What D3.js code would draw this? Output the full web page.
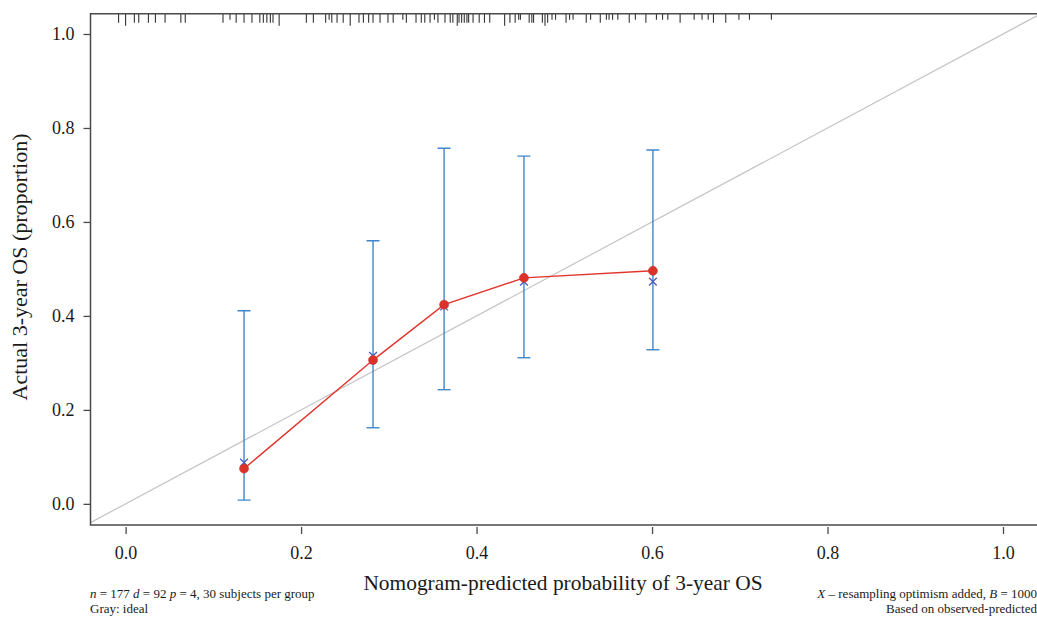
<!DOCTYPE html>
<html><head><meta charset="utf-8">
<script src="https://cdn.jsdelivr.net/npm/d3@7"></script>
<style>
body{margin:0;background:#fff}
text{font-family:"Liberation Serif","Times New Roman",serif;fill:#1a1a1a}
</style>
</head><body><svg id="c" width="1037" height="621"></svg>
<script>
// ---- data ----
const predicted = [0.135, 0.282, 0.363, 0.454, 0.601];
const observed  = [0.075, 0.306, 0.424, 0.481, 0.496];
const corrected = [0.088, 0.315, 0.420, 0.473, 0.473];
const lower     = [0.008, 0.162, 0.243, 0.311, 0.328];
const upper     = [0.411, 0.560, 0.757, 0.740, 0.753];
const rugPos = [-0.008,0.000,0.010,0.015,0.026,0.034,0.045,0.063,0.068,0.111,0.119,0.126,0.135,0.144,0.153,0.157,0.161,0.165,0.168,0.175,
  0.206,0.214,0.228,0.232,0.235,0.241,0.248,0.256,0.266,0.271,0.277,0.282,0.290,0.299,0.305,0.316,0.320,0.331,0.337,0.341,0.347,0.352,0.356,
  0.364,0.370,0.373,0.378,0.380,0.383,0.386,0.389,0.391,0.396,0.403,0.409,0.415,0.432,0.438,0.444,0.448,0.450,0.460,0.463,0.465,0.475,0.478,
  0.481,0.486,0.490,0.502,0.506,0.510,0.525,0.530,0.541,0.548,0.551,0.555,0.561,0.574,0.581,0.593,0.605,0.612,0.618,0.632,0.648,0.657,0.664,
  0.670,0.684,0.699,0.711,0.736];
const rugFreq = [3,4,3,3,3,3,3,3,3,3,2,3,3,3,3,3,3,3,3,4,
  3,3,3,2,3,3,3,4,3,3,3,3,3,3,3,2,3,3,3,3,3,2,3,
  3,3,3,4,3,3,3,3,3,3,3,3,3,4,3,3,2,2,3,3,3,3,4,
  3,2,2,3,2,2,3,2,3,2,2,2,2,3,2,3,2,2,2,3,2,2,2,
  3,3,2,2,2];
const xTicks = [0, 0.2, 0.4, 0.6, 0.8, 1.0];
const yTicks = [0, 0.2, 0.4, 0.6, 0.8, 1.0];
const xLabel = "Nomogram-predicted probability of 3-year OS";
const yLabel = "Actual 3-year OS (proportion)";

// ---- layout ----
const svg = d3.select("#c");
const L = 90.5, R = 1038.1, T = 13.8, B = 525;
const x = d3.scaleLinear().domain([-0.04, 1.04]).range([L, R]);
const y = d3.scaleLinear().domain([-0.045, 1.043]).range([B, T]);
const rugH = d3.scaleLinear().domain([0, 4]).range([0, 12]);

svg.append("clipPath").attr("id","clip").append("rect")
  .attr("x", L).attr("y", T).attr("width", R - L).attr("height", B - T);
const plot = svg.append("g").attr("clip-path","url(#clip)");

// ideal diagonal
plot.append("line")
  .attr("x1", x(-0.04)).attr("y1", y(-0.04)).attr("x2", x(1.04)).attr("y2", y(1.04))
  .attr("stroke", "#c4c4c4").attr("stroke-width", 1.2);

// rug
svg.append("g").selectAll("line").data(rugPos).join("line")
  .attr("x1", d => x(d)).attr("x2", d => x(d))
  .attr("y1", T).attr("y2", (d, i) => T + rugH(rugFreq[i]))
  .attr("stroke", "#333").attr("stroke-width", 1.1);

// error bars
const idx = d3.range(predicted.length);
const eb = plot.append("g").attr("stroke", "#3f86cc").attr("stroke-width", 1.4).attr("fill","none");
idx.forEach(i => {
  const cx = x(predicted[i]);
  eb.append("line").attr("x1", cx).attr("x2", cx).attr("y1", y(lower[i])).attr("y2", y(upper[i]));
  eb.append("line").attr("x1", cx - 6.5).attr("x2", cx + 6.5).attr("y1", y(lower[i])).attr("y2", y(lower[i]));
  eb.append("line").attr("x1", cx - 6.5).attr("x2", cx + 6.5).attr("y1", y(upper[i])).attr("y2", y(upper[i]));
});

// corrected X markers
plot.append("g").selectAll("path").data(idx).join("path")
  .attr("d", d3.symbol().type(d3.symbolX).size(40))
  .attr("transform", i => `translate(${x(predicted[i])},${y(corrected[i])})`)
  .attr("stroke", "#4a5cbf").attr("stroke-width", 1.3).attr("fill", "none");

// observed line + dots
plot.append("path").datum(idx)
  .attr("d", d3.line().x(i => x(predicted[i])).y(i => y(observed[i])))
  .attr("stroke", "#e2342b").attr("stroke-width", 1.4).attr("fill", "none");
plot.append("g").selectAll("circle").data(idx).join("circle")
  .attr("cx", i => x(predicted[i])).attr("cy", i => y(observed[i])).attr("r", 4.5)
  .attr("fill", "#dc3129").attr("stroke", "#c2362e").attr("stroke-width", 0.6);

// frame (left, top, bottom)
svg.append("path")
  .attr("d", `M${R},${T}H${L}V${B}H${R}`)
  .attr("stroke", "#4a4a4a").attr("stroke-width", 1.5).attr("fill", "none");

// axes
const fmt = d3.format(".1f");
const ya = svg.append("g").attr("transform", `translate(${L},0)`)
  .call(d3.axisLeft(y).tickValues(yTicks).tickFormat(fmt).tickSize(7).tickPadding(9));
const xa = svg.append("g").attr("transform", `translate(0,${B + 2})`)
  .call(d3.axisBottom(x).tickValues(xTicks).tickFormat(fmt).tickSize(7).tickPadding(12));
[ya, xa].forEach(a => {
  a.select(".domain").remove();
  a.selectAll("line").attr("stroke", "#4a4a4a").attr("stroke-width", 1.3);
  a.selectAll("text").attr("font-size", 18).attr("fill", "#1a1a1a")
    .style("font-family", '"Liberation Serif", serif');
});

// axis titles
svg.append("text").attr("x", 563).attr("y", 590).attr("text-anchor", "middle")
  .attr("font-size", 21.4).text(xLabel);
svg.append("text").attr("transform", "translate(27,267) rotate(-90)").attr("text-anchor", "middle")
  .attr("font-size", 22).text(yLabel);

// footnotes
const fn = svg.append("g").attr("font-size", 13);
const t1 = fn.append("text").attr("x", 90).attr("y", 598);
t1.append("tspan").attr("font-style","italic").text("n");
t1.append("tspan").text(" = 177 ");
t1.append("tspan").attr("font-style","italic").text("d");
t1.append("tspan").text(" = 92 ");
t1.append("tspan").attr("font-style","italic").text("p");
t1.append("tspan").text(" = 4, 30 subjects per group");
fn.append("text").attr("x", 90).attr("y", 613).text("Gray: ideal");
const t2 = fn.append("text").attr("x", 1037).attr("y", 598).attr("text-anchor", "end");
t2.append("tspan").attr("font-style","italic").text("X");
t2.append("tspan").text(" \u2013 resampling optimism added, ");
t2.append("tspan").attr("font-style","italic").text("B");
t2.append("tspan").text(" = 1000");
fn.append("text").attr("x", 1037).attr("y", 613).attr("text-anchor", "end").text("Based on observed-predicted");
</script></body></html>
